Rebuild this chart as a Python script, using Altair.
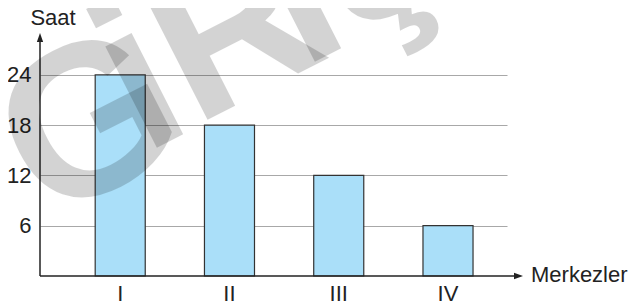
import altair as alt
import pandas as pd

# data
merkezler = ["I", "II", "III", "IV"]
saat = [24, 18, 12, 6]
y_ticks = [6, 12, 18, 24]

# watermark letters (annotation)
wm_letters = ["G", "i", "R", "i", "ş"]
wm_x = [80, 130, 224, 288, 365]
wm_y = [152, 108, 58, 22, -25]

df = pd.DataFrame({"merkez": merkezler, "saat": saat})

W, H = 467, 243
FONT = "Liberation Sans"

x_enc = alt.X(
    "merkez:N",
    sort=merkezler,
    scale=alt.Scale(paddingInner=0.542, paddingOuter=0.408, align=0.619),
    axis=alt.Axis(title=None, labelAngle=0, ticks=False, domain=False,
                  labelFontSize=22, labelFont=FONT, labelColor="#222",
                  labelPadding=7, labelBaseline="top"),
)
y_enc = alt.Y(
    "saat:Q",
    scale=alt.Scale(domain=[0, 29], nice=False),
    axis=alt.Axis(title=None, values=y_ticks, ticks=False, domain=False,
                  grid=True, gridColor="#a8a8a8", gridWidth=1.2,
                  labelFontSize=22, labelFont=FONT, labelColor="#222",
                  labelPadding=9),
)

bars = alt.Chart(df).mark_bar(
    color="#aadff9", stroke="#333333", strokeWidth=1.2
).encode(x=x_enc, y=y_enc)

base = alt.Chart(pd.DataFrame({"a": [0]}))

y_line = base.mark_rule(color="#222", strokeWidth=1.5).encode(
    x=alt.value(0), y=alt.value(3), y2=alt.value(H))
x_line = base.mark_rule(color="#222", strokeWidth=1.5).encode(
    x=alt.value(0), x2=alt.value(479), y=alt.value(H))
y_arrow = base.mark_point(
    shape="M0,-1L-0.7,1L0.7,1Z", filled=True, color="#222", opacity=1, size=81
).encode(x=alt.value(0), y=alt.value(4.5))
x_arrow = base.mark_point(
    shape="M1,0L-1,-0.7L-1,0.7Z", filled=True, color="#222", opacity=1, size=81
).encode(x=alt.value(478.5), y=alt.value(H))

saat_lbl = base.mark_text(
    text="Saat", font=FONT, fontSize=22, color="#222", align="center", baseline="middle"
).encode(x=alt.value(13), y=alt.value(-15))
merk_lbl = base.mark_text(
    text="Merkezler", font=FONT, fontSize=22, color="#222", align="left", baseline="middle"
).encode(x=alt.value(491), y=alt.value(H - 1))

wm_layers = [
    base.mark_text(
        text=ch, font=FONT, fontWeight="bold", fontSize=215, color="#000000",
        opacity=0.17, angle=333, align="center", baseline="alphabetic"
    ).encode(x=alt.value(px), y=alt.value(py))
    for ch, px, py in zip(wm_letters, wm_x, wm_y)
]

chart = alt.layer(
    bars, y_line, x_line, y_arrow, x_arrow, saat_lbl, merk_lbl, *wm_layers
).properties(
    width=W, height=H,
    autosize=alt.AutoSizeParams(type="none"),
    padding={"left": 32, "top": 25, "right": 124, "bottom": 28},
).configure_view(stroke=None)

chart.save("out.html", embed_options={"renderer": "svg", "actions": False})
